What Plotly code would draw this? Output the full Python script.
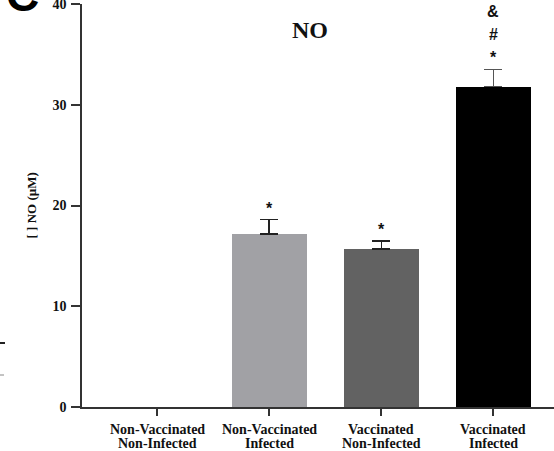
import plotly.graph_objects as go

categories = ["Non-Vaccinated<br>Non-Infected", "Non-Vaccinated<br>Infected",
              "Vaccinated<br>Non-Infected", "Vaccinated<br>Infected"]
values = [0.0, 17.2, 15.7, 31.8]
errors = [0.0, 1.4, 0.8, 1.7]
signif = [[], ["*"], ["*"], ["*", "#", "&"]]
bar_colors = ["#ffffff", "#a1a1a5", "#626262", "#000000"]
err_colors = ["#000000", "#222222", "#222222", "#555555"]
y_ticks = [0, 10, 20, 30, 40]

W, H = 554, 451
ML, MR, MT, MB = 82, 0, 4, 44
PW, PH = W - ML - MR, H - MT - MB

def px(x):
    return (x - ML) / PW

def py(y):
    return 1 - (y - MT) / PH

fig = go.Figure()
for i, c in enumerate(categories):
    fig.add_trace(go.Bar(
        x=[i], y=[values[i]], width=0.67,
        marker=dict(color=bar_colors[i], line=dict(width=0)),
        error_y=dict(type="data", array=[errors[i]], symmetric=False, arrayminus=[0],
                     color=err_colors[i], thickness=1.6, width=9,
                     visible=errors[i] > 0),
        showlegend=False, hoverinfo="skip"))

for i in range(len(categories)):
    for k, s in enumerate(signif[i]):
        fig.add_annotation(x=i, y=values[i] + errors[i], xref="x", yref="y",
                           text="<b>" + s + "</b>", showarrow=False,
                           yanchor="bottom", yshift=1 + k * 23,
                           font=dict(family="Liberation Sans", size=16, color="#111111"))

# category labels (two lines each, tight line spacing)
label_rows = [429, 443]
for i, c in enumerate(categories):
    for r, line in enumerate(c.split("<br>")):
        fig.add_annotation(x=i, y=py(label_rows[r]), xref="x", yref="paper",
                           text="<b>" + line + "</b>", showarrow=False,
                           xanchor="center", yanchor="middle",
                           font=dict(family="Liberation Serif", size=14, color="#111111"))

# title
fig.add_annotation(x=px(310), y=py(30), xref="paper", yref="paper", text="<b>NO</b>",
                   showarrow=False, xanchor="center", yanchor="middle",
                   font=dict(family="Liberation Serif", size=24, color="#111111"))
# y-axis title
fig.add_annotation(x=px(31), y=0.5, xref="paper", yref="paper",
                   text="<b>[ ] NO (µM)</b>", showarrow=False, textangle=-90,
                   xanchor="center", yanchor="middle",
                   font=dict(family="Liberation Serif", size=13, color="#111111"))
# panel letter
fig.add_annotation(x=px(22), y=py(-5), xref="paper", yref="paper", text="<b>C</b>",
                   showarrow=False, xanchor="center", yanchor="middle",
                   font=dict(family="Liberation Sans", size=46, color="#000000"))

# stray marks at left edge (neighbouring panel fragments)
fig.add_shape(type="line", xref="paper", yref="paper", x0=px(0), x1=px(5),
              y0=py(343), y1=py(343), line=dict(color="#222222", width=2))
fig.add_shape(type="line", xref="paper", yref="paper", x0=px(0), x1=px(4),
              y0=py(375), y1=py(375), line=dict(color="#888888", width=1))

fig.update_layout(
    width=W, height=H, margin=dict(l=ML, r=MR, t=MT, b=MB, autoexpand=False),
    paper_bgcolor="white", plot_bgcolor="white", bargap=0,
    xaxis=dict(range=[-0.67, 3.54], tickmode="array", tickvals=list(range(len(categories))),
               showticklabels=False, automargin=False,
               ticks="outside", ticklen=7, tickwidth=1.5, tickcolor="#333333",
               showline=True, linecolor="#333333", linewidth=1.5,
               showgrid=False, zeroline=False),
    yaxis=dict(range=[0, 40], tickmode="array", tickvals=y_ticks, automargin=False,
               ticks="outside", ticklen=9, tickwidth=1.5, tickcolor="#333333",
               showline=True, linecolor="#333333", linewidth=1.5,
               showgrid=False, zeroline=False, ticklabelstandoff=2,
               ticklabeloverflow="allow",
               tickfont=dict(family="Liberation Serif", size=14, color="#111111",
                             weight="bold")),
)

fig.write_html("out.html", config={"displayModeBar": False},
               post_script="document.body.style.margin='0px';document.body.style.overflow='hidden';")
